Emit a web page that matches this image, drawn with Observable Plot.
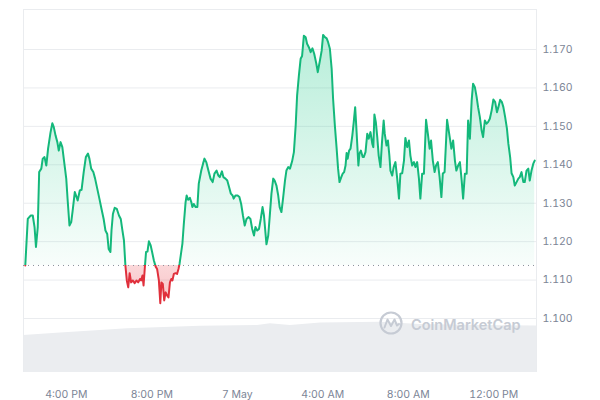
<!DOCTYPE html>
<html><head><meta charset="utf-8">
<script src="https://cdn.jsdelivr.net/npm/d3@7"></script>
<script src="https://cdn.jsdelivr.net/npm/@observablehq/plot@0.6"></script>
<style>
body{margin:0;background:#fff;}
#wrap{position:relative;width:600px;height:400px;font-family:Inter,"Noto Sans",sans-serif;}
#wrap > svg{position:absolute;left:0;top:0;}
</style></head><body><div id="wrap"></div>
<script>
// ---- data ----
const startTime = "2025-05-06T14:00:00Z";
const minutes = [5,12,20,26,31,35,40,44,50,54,59,64,69,76,81,85,90,95,99,104,109,113,120,124,129,134,138,144,149,152,158,163,169,175,181,185,190,196,201,207,213,219,225,230,235,239,244,247,251,256,262,268,273,277,282,286,290,294,298,302,307,312,317,322,327,330,334,337,341,344,348,352,357,361,366,371,375,380,384,387,391,395,399,403,407,411,415,418,422,427,431,435,438,442,446,450,455,458,462,467,471,474,478,483,488,492,499,504,508,513,519,525,531,536,542,547,551,557,561,567,572,577,582,587,590,595,601,606,611,616,621,626,632,637,642,647,651,656,661,666,671,675,679,682,687,691,696,701,705,710,715,719,724,729,734,738,743,748,754,759,764,768,773,778,782,787,792,796,801,806,811,816,822,826,832,837,841,846,851,855,860,865,869,874,879,883,887,892,896,900,904,907,910,914,918,923,927,931,935,940,943,947,952,955,960,965,969,974,979,982,985,989,993,997,1002,1006,1011,1014,1019,1023,1027,1030,1035,1039,1044,1049,1054,1058,1063,1068,1072,1077,1082,1086,1091,1096,1100,1105,1110,1114,1119,1124,1130,1135,1140,1144,1149,1154,1158,1163,1168,1173,1177,1182,1189,1197,1201,1206,1211,1215,1220,1225,1230,1234,1239,1244,1248,1253,1258,1262,1267,1272,1276,1281,1286,1290,1295,1300,1304,1309,1314,1319,1324,1329,1333,1338,1343,1347,1352,1357,1361,1366,1370,1375,1379,1384,1389,1393,1398,1403,1407,1412,1417,1421,1426,1431,1435];
const price = [1.1138,1.1259,1.1268,1.1268,1.1238,1.1186,1.1238,1.1381,1.1390,1.1416,1.1420,1.1398,1.1442,1.1485,1.1508,1.1498,1.1476,1.1459,1.1437,1.1459,1.1446,1.1416,1.1364,1.1307,1.1242,1.1251,1.1281,1.1329,1.1316,1.1307,1.1333,1.1335,1.1381,1.1420,1.1429,1.1416,1.1390,1.1381,1.1364,1.1338,1.1312,1.1285,1.1259,1.1229,1.1220,1.1181,1.1173,1.1229,1.1272,1.1288,1.1285,1.1268,1.1259,1.1233,1.1203,1.1138,1.1099,1.1081,1.1118,1.1094,1.1099,1.1092,1.1099,1.1094,1.1103,1.1099,1.1112,1.1086,1.1138,1.1173,1.1174,1.1201,1.1190,1.1173,1.1151,1.1135,1.1129,1.1099,1.1040,1.1094,1.1090,1.1047,1.1068,1.1060,1.1055,1.1094,1.1103,1.1099,1.1116,1.1118,1.1116,1.1129,1.1142,1.1168,1.1194,1.1246,1.1303,1.1320,1.1309,1.1314,1.1303,1.1290,1.1298,1.1290,1.1290,1.1351,1.1385,1.1403,1.1416,1.1407,1.1385,1.1364,1.1355,1.1377,1.1385,1.1372,1.1368,1.1383,1.1368,1.1364,1.1359,1.1342,1.1325,1.1320,1.1312,1.1320,1.1320,1.1316,1.1298,1.1268,1.1242,1.1259,1.1264,1.1259,1.1233,1.1216,1.1238,1.1229,1.1233,1.1259,1.1290,1.1268,1.1225,1.1193,1.1216,1.1264,1.1325,1.1364,1.1359,1.1346,1.1320,1.1290,1.1277,1.1316,1.1359,1.1385,1.1394,1.1390,1.1409,1.1433,1.1502,1.1580,1.1632,1.1676,1.1683,1.1736,1.1732,1.1715,1.1706,1.1693,1.1703,1.1689,1.1663,1.1641,1.1671,1.1697,1.1738,1.1732,1.1729,1.1719,1.1702,1.1650,1.1572,1.1502,1.1442,1.1390,1.1355,1.1368,1.1377,1.1381,1.1398,1.1431,1.1416,1.1437,1.1442,1.1476,1.1511,1.1550,1.1485,1.1398,1.1429,1.1437,1.1420,1.1420,1.1433,1.1481,1.1468,1.1485,1.1455,1.1446,1.1531,1.1511,1.1472,1.1424,1.1394,1.1455,1.1515,1.1481,1.1450,1.1463,1.1424,1.1385,1.1372,1.1394,1.1407,1.1364,1.1312,1.1377,1.1378,1.1411,1.1470,1.1446,1.1463,1.1424,1.1398,1.1407,1.1394,1.1407,1.1364,1.1312,1.1377,1.1377,1.1517,1.1481,1.1442,1.1463,1.1411,1.1381,1.1398,1.1407,1.1368,1.1316,1.1377,1.1381,1.1517,1.1468,1.1442,1.1463,1.1411,1.1385,1.1398,1.1407,1.1359,1.1312,1.1377,1.1377,1.1515,1.1468,1.1567,1.1611,1.1602,1.1576,1.1550,1.1524,1.1489,1.1472,1.1515,1.1507,1.1511,1.1520,1.1541,1.1570,1.1563,1.1537,1.1550,1.1569,1.1563,1.1550,1.1524,1.1494,1.1455,1.1420,1.1378,1.1368,1.1346,1.1355,1.1364,1.1368,1.1381,1.1355,1.1355,1.1385,1.1390,1.1359,1.1385,1.1403,1.1411];
const baselinePrice = 1.1138;
const volMinutes = [0,104,292,497,657,693,749,834,1002,1114,1283,1440];
const volumeM = [370,395,437,463,470,487,470,495,503,480,470,465];
const yTicks = [1.10,1.11,1.12,1.13,1.14,1.15,1.16,1.17];
const xTickMinutes = [120,360,600,840,1080,1320];
const xTickLabels = ["4:00 PM","8:00 PM","7 May","4:00 AM","8:00 AM","12:00 PM"];

// ---- setup ----
const t0 = new Date(startTime).getTime();
const toDate = m => new Date(t0 + m * 60000);
const rows = minutes.map((m, i) => ({t: toDate(m), p: price[i]}));
const vrows = volMinutes.map((m, i) => ({t: toDate(m), v: volumeM[i]}));
const W = 600, H = 400, mL = 23, mR = 64, mT = 9, mB = 28;
const yDomain = [1.08595, 1.18041];
const xDomain = [toDate(0), toDate(1440)];
const grid = "#eaecef";
const GREEN = "#14b87b", RED = "#e0303c";

const wrap = document.getElementById("wrap");

const volPlot = Plot.plot({
  width: W, height: H, marginLeft: mL, marginRight: mR, marginTop: mT, marginBottom: mB,
  style: {background: "none"},
  x: {type: "utc", domain: xDomain, axis: null},
  y: {domain: [0, 3630], axis: null},
  marks: [Plot.areaY(vrows, {x: "t", y: "v", fill: "#ebedf0"})]
});
wrap.appendChild(volPlot);

const pricePlot = Plot.plot({
  width: W, height: H, marginLeft: mL, marginRight: mR, marginTop: mT, marginBottom: mB,
  style: {background: "none", fontFamily: "Inter, 'Noto Sans', sans-serif", fontSize: "10.5px", color: "#7c8596", overflow: "visible"},
  x: {type: "utc", domain: xDomain, ticks: xTickMinutes.map(toDate),
      tickFormat: d => xTickLabels[xTickMinutes.indexOf(Math.round((d - t0) / 60000))],
      tickSize: 0, tickPadding: 18, label: null},
  y: {domain: yDomain, ticks: yTicks, tickFormat: d => d.toFixed(3), tickSize: 0, tickPadding: 6, label: null, axis: "right"},
  marks: [
    Plot.ruleY(yTicks, {stroke: grid, strokeWidth: 1}),
    Plot.ruleY([yDomain[1]], {stroke: grid}),
    Plot.ruleX(xDomain, {stroke: grid}),
    Plot.areaY(rows, {x: "t", y1: () => baselinePrice, y2: "p", fill: "url(#areaGrad)"}),
    Plot.ruleY([baselinePrice], {stroke: "#8a909b", strokeWidth: 1, strokeDasharray: "1,4"}),
    Plot.line(rows, {x: "t", y: "p", stroke: "url(#lineGrad)", strokeWidth: 2})
  ]
});
wrap.appendChild(pricePlot);

// gradients split at the baseline
let yb;
try { yb = pricePlot.scale("y").apply(baselinePrice); } catch (e) {}
if (!(yb >= 0)) yb = mT + (yDomain[1] - baselinePrice) / (yDomain[1] - yDomain[0]) * (H - mT - mB);
const fb = (yb - mT) / (H - mT - mB);
const defs = d3.select(pricePlot).insert("defs", ":first-child");
const lg = defs.append("linearGradient").attr("id", "lineGrad").attr("gradientUnits", "userSpaceOnUse")
  .attr("x1", 0).attr("x2", 0).attr("y1", mT).attr("y2", H - mB);
lg.append("stop").attr("offset", fb).attr("stop-color", GREEN);
lg.append("stop").attr("offset", fb).attr("stop-color", RED);
const ag = defs.append("linearGradient").attr("id", "areaGrad").attr("gradientUnits", "userSpaceOnUse")
  .attr("x1", 0).attr("x2", 0).attr("y1", mT).attr("y2", H - mB);
ag.append("stop").attr("offset", 0).attr("stop-color", "#16c784").attr("stop-opacity", 0.34);
ag.append("stop").attr("offset", fb).attr("stop-color", "#16c784").attr("stop-opacity", 0.03);
ag.append("stop").attr("offset", fb).attr("stop-color", "#ea3943").attr("stop-opacity", 0.2);
ag.append("stop").attr("offset", 1).attr("stop-color", "#ea3943").attr("stop-opacity", 0.5);

// watermark
const wm = document.createElementNS("http://www.w3.org/2000/svg", "svg");
wm.setAttribute("width", "170"); wm.setAttribute("height", "30");
wm.style.left = "378px"; wm.style.top = "309px";
wm.innerHTML = `<circle cx="13" cy="14" r="10.5" fill="none" stroke="#c6cbd4" stroke-width="2.2"/>
<path d="M6.5 18.5 L9.5 10.5 L13 17 L16.5 10.5 L19 16.5 L21 15" fill="none" stroke="#c6cbd4" stroke-width="2" stroke-linejoin="round" stroke-linecap="round"/>
<text x="33" y="21" font-family="Inter, sans-serif" font-size="14.5" font-weight="600" fill="#c6cbd4">CoinMarketCap</text>`;
wrap.appendChild(wm);
</script></body></html>
